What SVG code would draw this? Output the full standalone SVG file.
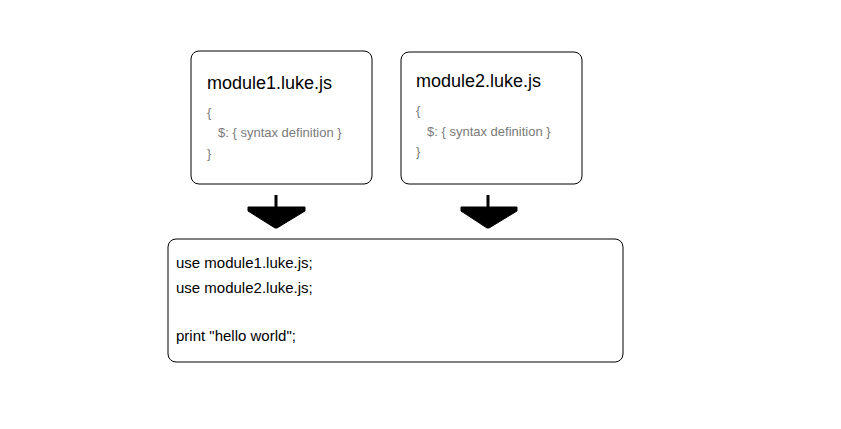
<svg xmlns="http://www.w3.org/2000/svg" width="841" height="429" viewBox="0 0 841 429">
<style>
.box{fill:#fff;stroke:#000;stroke-width:1}
.title{font-family:"Liberation Sans",Arial,sans-serif;font-size:18px;fill:#000}
.code{font-family:"Liberation Sans",Arial,sans-serif;font-size:13px;fill:#7a7a7a}
.main{font-family:"Liberation Sans",Arial,sans-serif;font-size:15px;fill:#000}
.shaft{stroke:#000;stroke-width:3}
.head{fill:#000;stroke:#000;stroke-width:1;stroke-linejoin:round}
</style>
<rect width="841" height="429" fill="#fff"/>
<g id="module1">
<rect class="box" x="191" y="51" width="181" height="133" rx="8"/>
<text class="title" x="207" y="89">module1.luke.js</text>
<text class="code" x="207" y="117">{</text>
<text class="code" x="218" y="137">$: { syntax definition }</text>
<text class="code" x="207" y="158">}</text>
</g>
<g id="module2">
<rect class="box" x="401" y="52" width="181" height="132" rx="8"/>
<text class="title" x="416" y="87">module2.luke.js</text>
<text class="code" x="416" y="115">{</text>
<text class="code" x="427" y="136">$: { syntax definition }</text>
<text class="code" x="416" y="156">}</text>
</g>
<g id="main">
<rect class="box" x="168" y="239" width="455" height="123" rx="8"/>
<text class="main" x="176" y="268">use module1.luke.js;</text>
<text class="main" x="176" y="293">use module2.luke.js;</text>
<text class="main" x="176" y="341">print "hello world";</text>
</g>
<g id="connectors">
<line class="shaft" x1="276" y1="195" x2="276" y2="208"/>
<polygon class="head" points="248,207 305,207 305,211 277,228 275,228 248,211"/>
<line class="shaft" x1="488" y1="195" x2="488" y2="208"/>
<polygon class="head" points="461,207 517,207 517,211 489,228 487,228 461,211"/>
</g>
</svg>
